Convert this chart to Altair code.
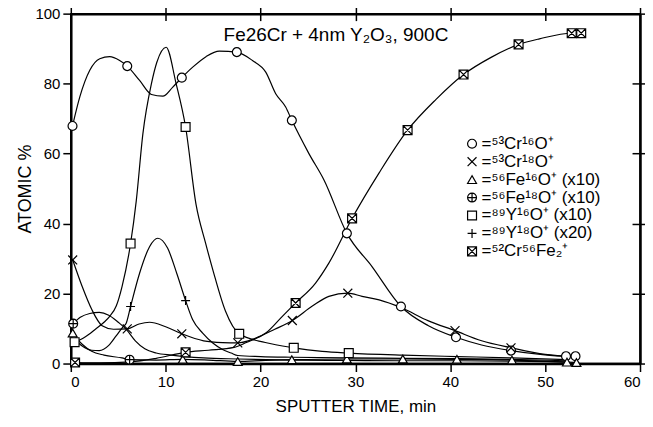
import altair as alt
import pandas as pd

FONT = "Liberation Sans"

S1 = "⁵³Cr¹⁶O⁺"
S2 = "⁵³Cr¹⁸O⁺"
S3 = "⁵⁶Fe¹⁶O⁺ (x10)"
S4 = "⁵⁶Fe¹⁸O⁺ (x10)"
S5 = "⁸⁹Y¹⁶O⁺ (x10)"
S6 = "⁸⁹Y¹⁸O⁺ (x20)"
S7 = "⁵²Cr⁵⁶Fe₂⁺"
series_order = [S1, S2, S3, S4, S5, S6, S7]
title_text = ["Fe26Cr + 4nm Y₂O₃, 900C"]

# ---- traced curves (sputter time, atomic %) ----
cr16o_line_x = [0.18, 0.95, 2.0, 3.05, 4.1, 5.15, 5.95, 7.25, 8.5, 9.7, 10.75, 11.7, 12.85, 14.25, 15.65, 17.5,
                19.15, 20.55, 21.6, 22.65, 23.3, 25.1, 26.7, 29.1, 31.75, 34.8, 37.7, 40.6, 43.3, 46.4, 49.5, 52.2, 53.2]
cr16o_line_y = [67.9, 76.2, 83.8, 87.1, 87.7, 86.6, 85.0, 80.9, 76.9, 76.4, 79.0, 81.7, 84.7, 87.7, 89.3, 89.0,
                86.6, 83.3, 77.1, 73.3, 69.5, 60.0, 52.4, 37.2, 27.7, 16.3, 10.8, 7.5, 5.3, 3.7, 2.6, 2.1, 2.1]

cr18o_line_x = [0.2, 1.2, 2.2, 3.3, 4.5, 5.95, 7.2, 8.3, 10.0, 11.7, 14.0, 16.0, 17.6, 19.5, 21.5, 23.35, 25.5,
                27.2, 29.2, 30.7, 32.5, 34.8, 37.7, 40.5, 43.3, 46.4, 50.0, 53.1]
cr18o_line_y = [29.6, 22.0, 15.5, 10.8, 9.8, 9.9, 11.3, 11.8, 10.5, 8.5, 6.5, 6.0, 5.9, 7.3, 9.8, 12.3, 16.5,
                19.2, 20.1, 19.2, 18.2, 16.0, 12.2, 9.4, 6.5, 4.5, 2.6, 2.0]

fe16o_line_x = [0.2, 1.2, 2.2, 3.5, 5.4, 6.2, 9.0, 11.8, 14.5, 17.6, 20.5, 23.3, 29.1, 35.0, 40.7, 46.5, 52.3, 53.3]
fe16o_line_y = [8.7, 5.5, 3.5, 2.4, 1.6, 1.1, 1.0, 1.2, 1.0, 0.6, 0.9, 1.1, 1.3, 1.3, 1.2, 1.0, 0.4, 0.3]

fe18o_line_x = [0.25, 1.0, 2.0, 3.0, 4.0, 5.0, 5.8, 6.8, 7.8, 9.0, 10.6, 12.0, 14.0, 17.6, 23.3, 29.1, 35.0,
                40.7, 46.5, 52.3]
fe18o_line_y = [11.4, 13.2, 14.3, 14.6, 13.8, 11.8, 9.9, 6.5, 4.2, 3.0, 2.4, 2.0, 1.6, 1.3, 1.0, 0.9, 0.8,
                0.8, 0.7, 0.5]

y16o_line_x = [0.4, 1.5, 2.5, 3.5, 4.1, 4.8, 5.4, 6.3, 6.9, 7.6, 8.5, 9.07, 10.05, 11.1, 12.1, 13.2, 14.2, 15.0,
               16.3, 17.75, 20.5, 23.5, 26.5, 29.3, 35.0, 40.7, 46.5, 52.3]
y16o_line_y = [6.1, 7.6, 9.6, 11.8, 13.5, 16.5, 22.0, 34.3, 46.5, 65.7, 80.0, 86.1, 90.4, 80.0, 67.6, 45.5, 34.5,
               26.5, 15.0, 8.5, 6.0, 4.5, 3.5, 3.0, 2.4, 2.0, 1.6, 1.1]

y18o_line_x = [0.4, 1.2, 2.2, 3.0, 4.0, 4.8, 5.5, 5.85, 6.3, 7.25, 8.3, 9.17, 10.2, 11.2, 12.1, 12.85, 13.9,
               15.0, 16.0, 16.9, 17.6, 20.0, 23.3, 29.1, 35.0, 40.7, 46.5, 52.3]
y18o_line_y = [7.0, 5.0, 3.8, 3.7, 5.2, 8.0, 10.5, 11.6, 16.3, 25.8, 33.4, 35.8, 33.0, 25.5, 18.0, 12.5, 8.7,
               5.8, 4.0, 3.0, 2.3, 2.0, 1.8, 1.6, 1.5, 1.4, 1.2, 0.8]

crfe2_line_x = [0.45, 3.0, 6.3, 9.0, 12.1, 14.5, 17.2, 18.5, 20.55, 22.3, 23.7, 25.8, 27.2, 29.65, 32.5, 35.5,
                38.5, 41.4, 44.3, 47.2, 49.4, 52.8, 53.8]
crfe2_line_y = [0.3, 0.2, 0.5, 1.5, 3.2, 3.8, 4.6, 6.0, 8.7, 13.5, 17.3, 23.0, 28.7, 41.5, 54.5, 66.7,
                75.5, 82.6, 87.5, 91.2, 92.8, 94.4, 94.4]

# ---- plotted symbols ----
cr16o_mark_x = [0.18, 5.95, 11.7, 17.5, 23.3, 29.1, 34.8, 40.6, 46.4, 52.2, 53.2]
cr16o_mark_y = [67.9, 85.0, 81.7, 89.0, 69.5, 37.2, 16.3, 7.5, 3.7, 2.1, 2.1]
cr18o_mark_x = [0.2, 5.95, 11.7, 17.6, 23.35, 29.2, 40.5, 46.4]
cr18o_mark_y = [29.6, 9.9, 8.5, 5.9, 12.3, 20.1, 9.4, 4.5]
fe16o_mark_x = [0.2, 11.8, 17.6, 23.3, 29.1, 35.0, 40.7, 46.5, 52.3, 53.3]
fe16o_mark_y = [8.7, 1.2, 0.6, 1.1, 1.3, 1.3, 1.2, 1.0, 0.4, 0.3]
fe18o_mark_x = [0.25, 6.2]
fe18o_mark_y = [11.4, 1.1]
y16o_mark_x = [0.4, 6.3, 12.1, 17.75, 23.5, 29.3]
y16o_mark_y = [6.1, 34.3, 67.6, 8.5, 4.5, 3.0]
y18o_mark_x = [6.3, 12.1]
y18o_mark_y = [16.3, 18.0]
crfe2_mark_x = [0.45, 12.1, 23.7, 29.65, 35.5, 41.4, 47.2, 52.8, 53.8]
crfe2_mark_y = [0.3, 3.2, 17.3, 41.5, 66.7, 82.6, 91.2, 94.4, 94.4]

x_ticks = [0, 10, 20, 30, 40, 50, 60]
y_ticks = [0, 20, 40, 60, 80, 100]
top_ticks = [10, 20, 30, 40, 50]
right_ticks = [20, 40, 60, 80]

lines = [(S1, cr16o_line_x, cr16o_line_y), (S2, cr18o_line_x, cr18o_line_y), (S3, fe16o_line_x, fe16o_line_y),
         (S4, fe18o_line_x, fe18o_line_y), (S5, y16o_line_x, y16o_line_y), (S6, y18o_line_x, y18o_line_y),
         (S7, crfe2_line_x, crfe2_line_y)]
marks = [(S1, cr16o_mark_x, cr16o_mark_y), (S2, cr18o_mark_x, cr18o_mark_y), (S3, fe16o_mark_x, fe16o_mark_y),
         (S4, fe18o_mark_x, fe18o_mark_y), (S5, y16o_mark_x, y16o_mark_y), (S6, y18o_mark_x, y18o_mark_y),
         (S7, crfe2_mark_x, crfe2_mark_y)]

line_df = pd.DataFrame([{"series": s, "t": x, "v": y} for s, xs, ys in lines for x, y in zip(xs, ys)])
mark_df = pd.DataFrame([{"series": s, "t": x, "v": y} for s, xs, ys in marks for x, y in zip(xs, ys)])
tick_df = pd.DataFrame({"t": top_ticks[:4], "v": right_ticks})
title_df = pd.DataFrame({"label": title_text})

shapes = [
    "circle",
    "M-1,-1L1,1M1,-1L-1,1",
    "triangle-up",
    "M-1,0A1,1,0,1,1,1,0A1,1,0,1,1,-1,0ZM-1,0L1,0M0,-1L0,1",
    "square",
    "M-1,0L1,0M0,-1L0,1",
    "M-1,-1L1,-1L1,1L-1,1ZM-1,-1L1,1M1,-1L-1,1",
]

xscale = alt.Scale(domain=[0, 60], nice=False)
yscale = alt.Scale(domain=[0, 100], nice=False)

x_axis = alt.Axis(values=x_ticks, title="SPUTTER TIME, min", grid=False, tickSize=8, tickWidth=1.5,
                  domainWidth=2.5, domainColor="black", tickColor="black", labelFontSize=15,
                  labelFont=FONT, labelColor="black", labelPadding=3, titleFont=FONT, titleFontSize=17,
                  titleFontWeight="normal", titleColor="black", titlePadding=9)
y_axis = alt.Axis(values=y_ticks, title="ATOMIC %", grid=False, tickSize=8, tickWidth=1.5,
                  domainWidth=2.5, domainColor="black", tickColor="black", labelFontSize=15,
                  labelFont=FONT, labelColor="black", labelPadding=3, titleFont=FONT, titleFontSize=18,
                  titleFontWeight="normal", titleColor="black", titlePadding=0)
top_axis = alt.Axis(orient="top", values=top_ticks, title=None, labels=False, grid=False, domain=False,
                    tickSize=7, tickWidth=1.5, tickColor="black", offset=-7)
right_axis = alt.Axis(orient="right", values=right_ticks, title=None, labels=False, grid=False, domain=False,
                      tickSize=8, tickWidth=1.5, tickColor="black", offset=-8)

legend = alt.Legend(title=None, orient="none", legendX=394, legendY=122,
                    labelFontSize=17, labelFont=FONT, labelColor="black",
                    labelExpr="'=' + datum.label", labelLimit=0, labelOffset=1,
                    symbolSize=80, symbolStrokeColor="black", symbolFillColor="white",
                    symbolStrokeWidth=1.2, symbolOpacity=1, rowPadding=0)

line_layer = alt.Chart(line_df).mark_line(color="black", strokeWidth=1.2, interpolate="monotone").encode(
    x=alt.X("t:Q", scale=xscale, axis=x_axis),
    y=alt.Y("v:Q", scale=yscale, axis=y_axis),
    detail="series:N",
)

point_layer = alt.Chart(mark_df).mark_point(filled=False, opacity=1, strokeWidth=1.2, size=80,
                                            fill="white", fillOpacity=1).encode(
    x=alt.X("t:Q", scale=xscale, axis=x_axis),
    y=alt.Y("v:Q", scale=yscale, axis=y_axis),
    color=alt.Color("series:N", scale=alt.Scale(domain=series_order, range=["black"] * 7), legend=legend),
    shape=alt.Shape("series:N", scale=alt.Scale(domain=series_order, range=shapes), legend=legend),
)

title_layer = alt.Chart(title_df).mark_text(font=FONT, fontSize=19, color="black", align="center",
                                           baseline="middle").encode(
    text="label:N",
    x=alt.value(266),
    y=alt.value(21),
)

frame_layer = alt.Chart(tick_df).mark_rule(opacity=0, strokeWidth=0).encode(
    x=alt.X("t:Q", scale=xscale, axis=top_axis),
    y=alt.Y("v:Q", scale=yscale, axis=right_axis),
)

chart = alt.layer(line_layer, point_layer, title_layer, frame_layer).resolve_axis(
    x="independent", y="independent"
).properties(
    width=571, height=351,
    autosize=alt.AutoSizeParams(type="none"),
    padding={"left": 63, "top": 5, "right": 5, "bottom": 60},
    background="white",
).configure_view(stroke="black", strokeWidth=1.5)

chart.save("out.html", embed_options={"renderer": "svg", "actions": False})
